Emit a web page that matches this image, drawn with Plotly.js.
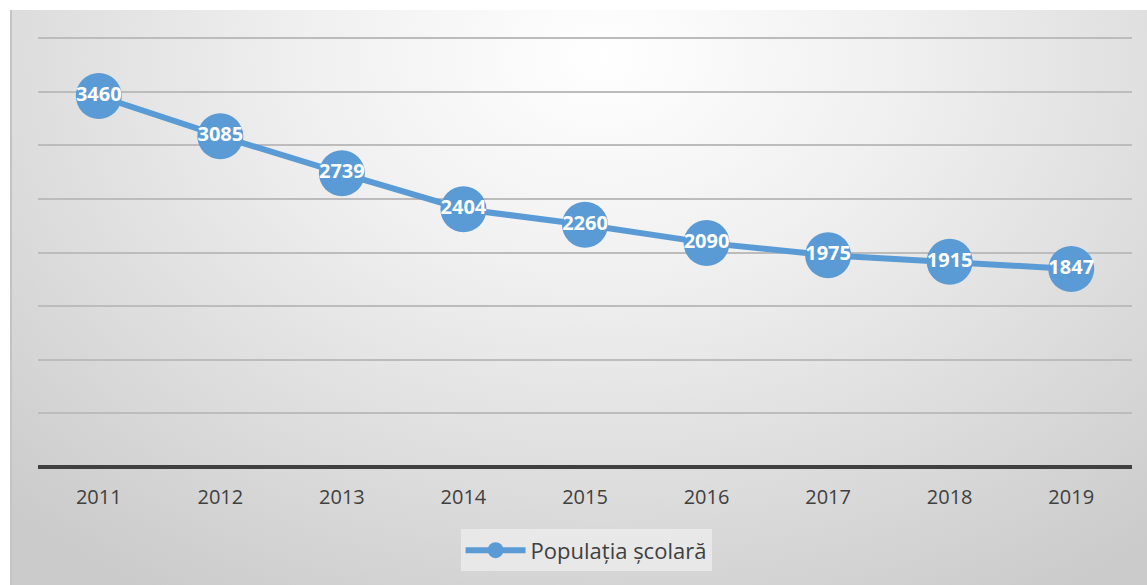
<!DOCTYPE html>
<html>
<head>
<meta charset="utf-8">
<script src="https://cdn.plot.ly/plotly-3.0.1.min.js"></script>
<style>
  html, body { margin: 0; padding: 0; background: #ffffff; }
  #bg {
    position: absolute; left: 10px; top: 10px; width: 1137px; height: 575px;
    background: radial-gradient(ellipse 75% 110% at 52% 8%, #ffffff 0%, #f0f0f0 35%, #dcdcdc 70%, #cbcbcb 100%);
    border-left: 2px solid #c4c4c4;
    box-sizing: border-box;
  }
  #chart { position: absolute; left: 0; top: 0; width: 1147px; height: 585px; }
</style>
</head>
<body>
<div id="bg"></div>
<div id="chart"></div>
<script>
const years = ['2011', '2012', '2013', '2014', '2015', '2016', '2017', '2018', '2019'];
const populatia = [3460, 3085, 2739, 2404, 2260, 2090, 1975, 1915, 1847];
const seriesName = 'Populația școlară';

const trace = {
  x: years,
  y: populatia,
  name: seriesName,
  type: 'scatter',
  mode: 'lines+markers+text',
  line: { color: '#5B9BD5', width: 6 },
  marker: { color: '#5B9BD5', size: 46 },
  text: populatia.map(String),
  textposition: 'middle center',
  textfont: { family: 'Open Sans, Liberation Sans, sans-serif', size: 20, color: '#ffffff', weight: 'bold' },
  cliponaxis: false,
  hoverinfo: 'x+y'
};

const layout = {
  width: 1147,
  height: 585,
  margin: { l: 38, r: 15, t: 37, b: 118 },
  paper_bgcolor: 'rgba(0,0,0,0)',
  plot_bgcolor: 'rgba(0,0,0,0)',
  showlegend: true,
  xaxis: {
    type: 'category',
    range: [-0.5, 8.5],
    showgrid: false,
    zeroline: false,
    showline: false,
    ticks: '',
    tickfont: { family: 'Open Sans, Liberation Sans, sans-serif', size: 20, color: '#404040' },
    ticklabelstandoff: 16
  },
  yaxis: {
    range: [0, 4010],
    tickvals: [0, 500, 1000, 1500, 2000, 2500, 3000, 3500, 4000],
    showticklabels: false,
    showgrid: true,
    gridcolor: '#bcbcbc',
    gridwidth: 2,
    zeroline: true,
    zerolinecolor: '#404040',
    zerolinewidth: 4,
    showline: false,
    ticks: ''
  },
  legend: {
    orientation: 'h',
    x: 0.501,
    xanchor: 'center',
    y: -0.145,
    yanchor: 'top',
    bgcolor: 'rgba(235,235,235,0.85)',
    font: { family: 'Open Sans, Liberation Sans, sans-serif', size: 22, color: '#404040' },
    itemwidth: 60
  }
};

Plotly.newPlot('chart', [trace], layout, { displayModeBar: false, staticPlot: true });
</script>
</body>
</html>
